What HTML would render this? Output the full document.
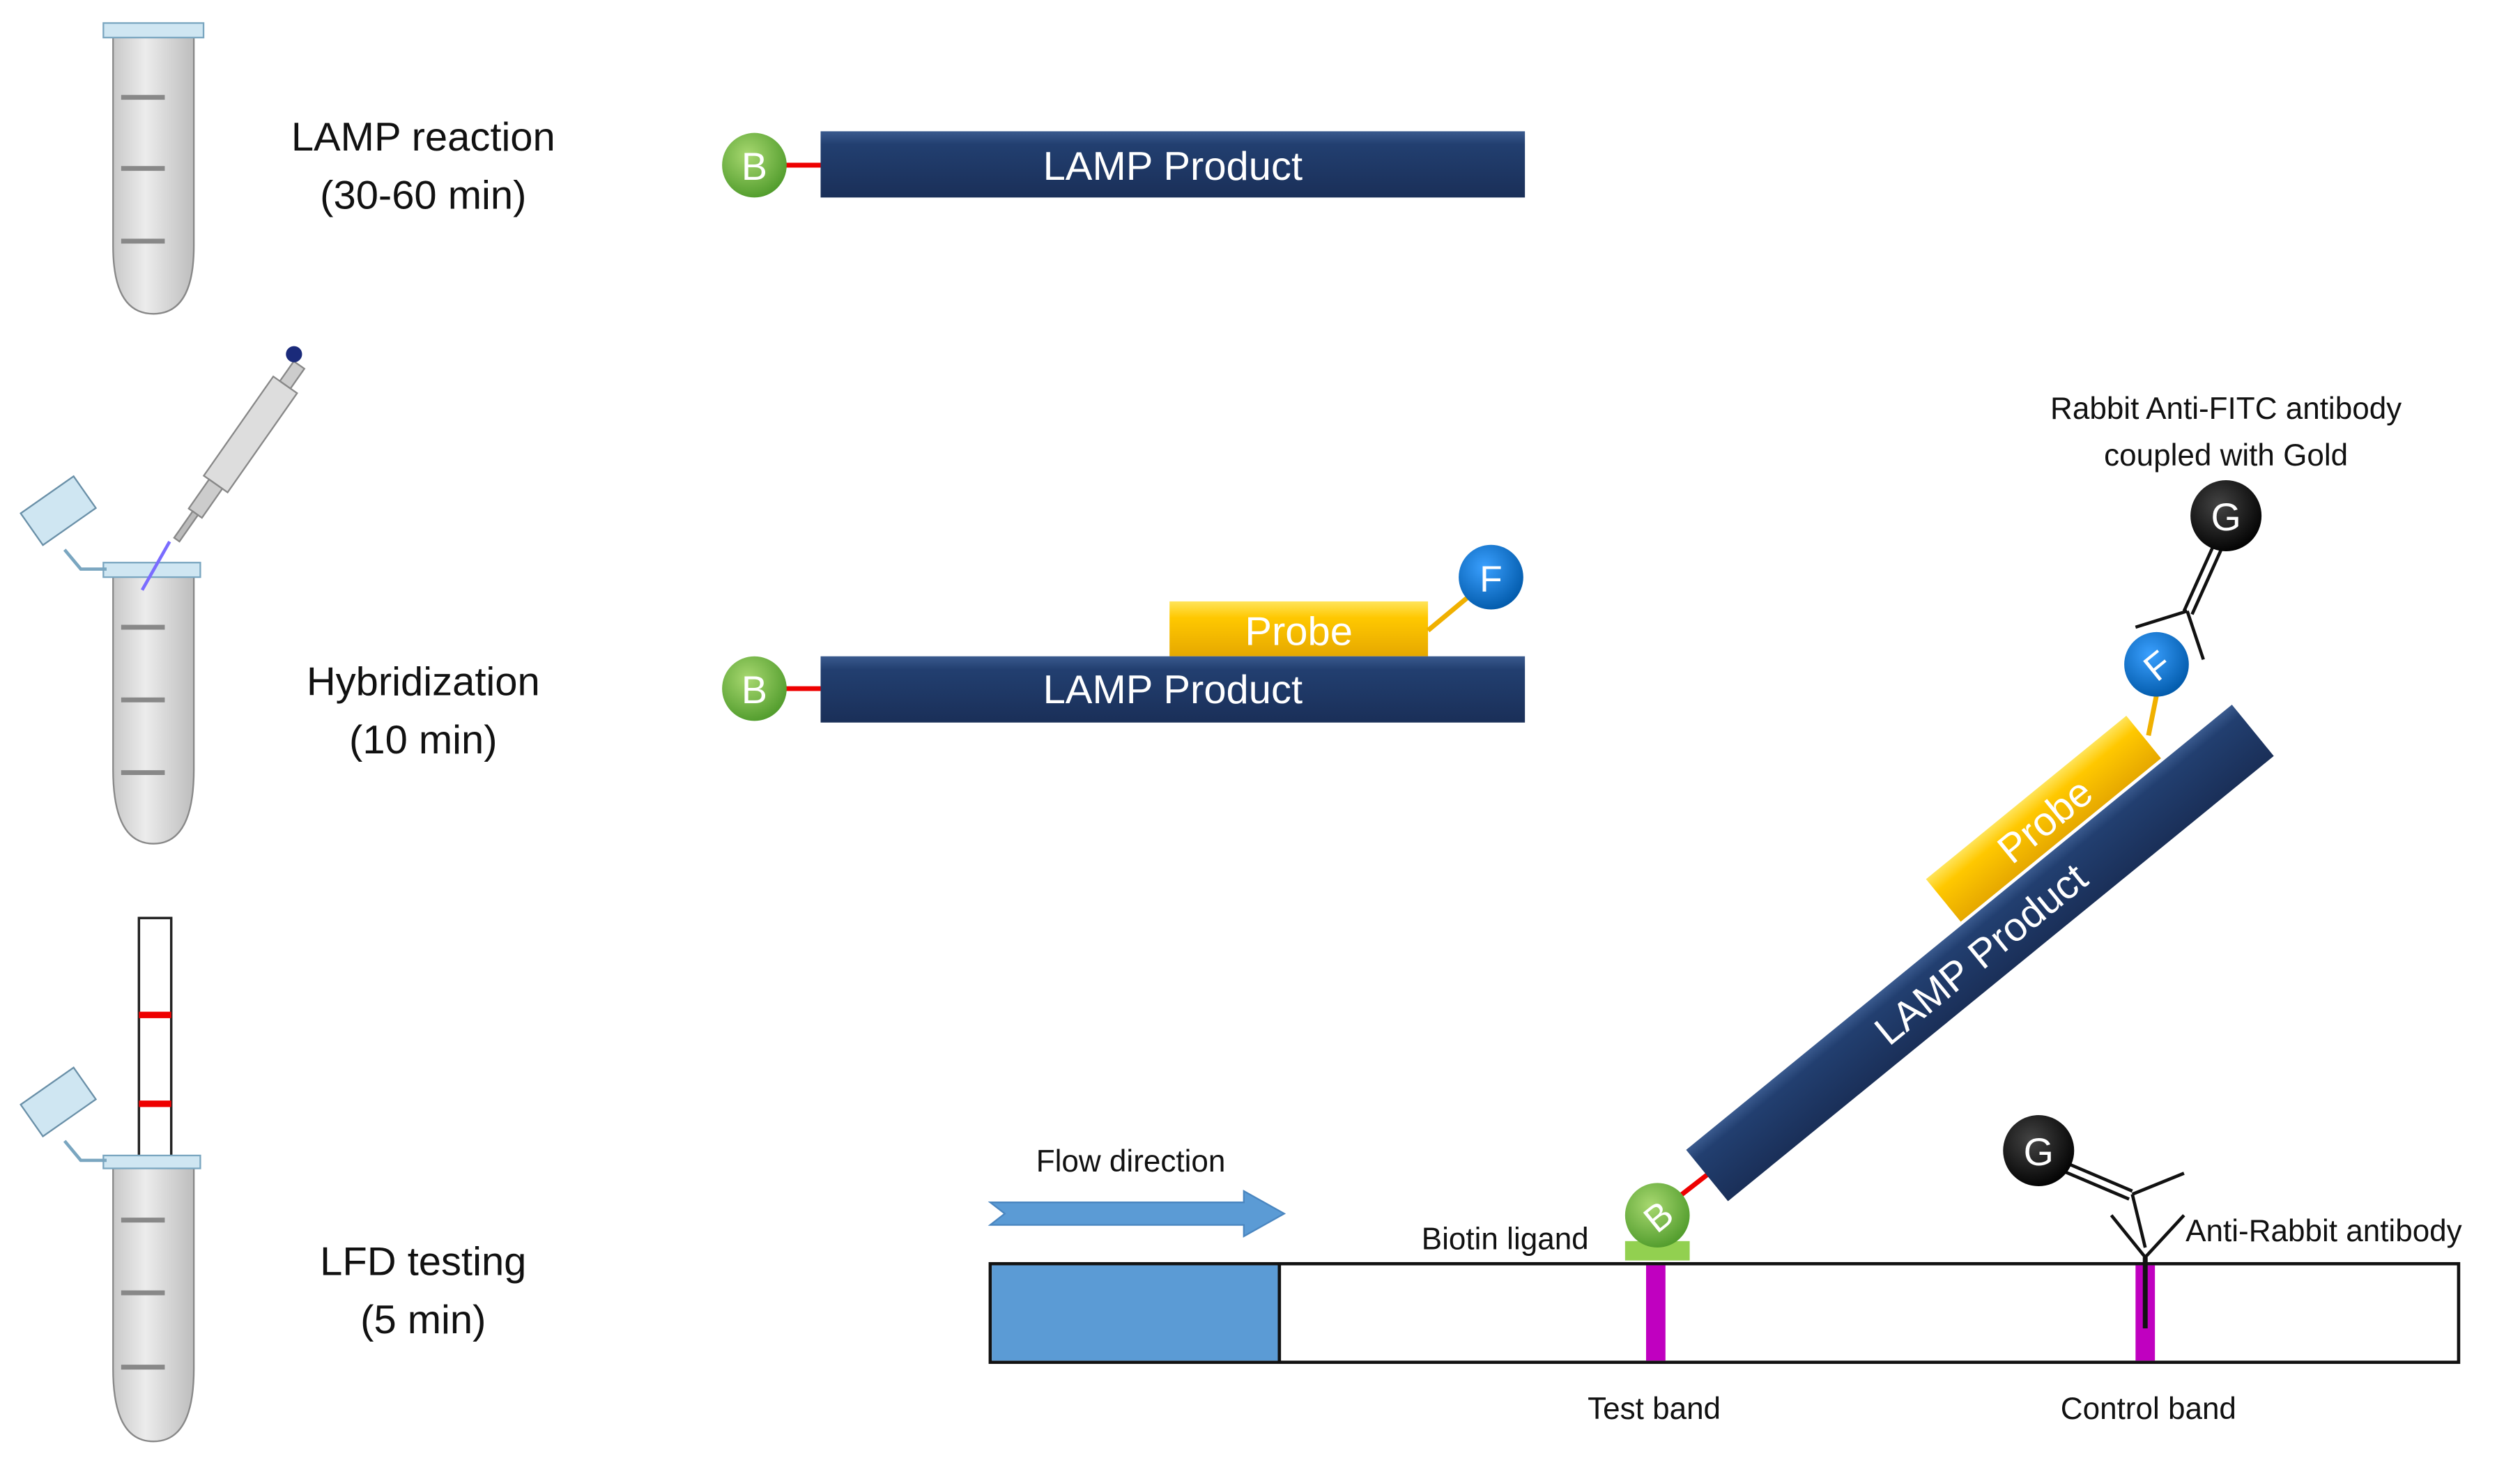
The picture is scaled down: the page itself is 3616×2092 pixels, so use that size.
<!DOCTYPE html>
<html><head><meta charset="utf-8"><style>
html,body{margin:0;padding:0;background:#fff;}
svg{display:block;}
text{font-family:"Liberation Sans",sans-serif;}
</style></head><body>
<svg width="3616" height="2092" viewBox="0 0 1560 902" xmlns="http://www.w3.org/2000/svg">
<defs>
<linearGradient id="tube" x1="0" x2="1"><stop offset="0" stop-color="#c8c8c8"/><stop offset="0.4" stop-color="#ececec"/><stop offset="1" stop-color="#bdbdbd"/></linearGradient>
<linearGradient id="navy" x1="0" y1="0" x2="0" y2="1"><stop offset="0" stop-color="#3a5a8e"/><stop offset="0.2" stop-color="#223f70"/><stop offset="1" stop-color="#1a2f58"/></linearGradient>
<linearGradient id="yel" x1="0" y1="0" x2="0" y2="1"><stop offset="0" stop-color="#ffe45a"/><stop offset="0.3" stop-color="#ffc800"/><stop offset="1" stop-color="#e6a800"/></linearGradient>
<radialGradient id="grn" cx="0.4" cy="0.35" r="0.7"><stop offset="0" stop-color="#a8d870"/><stop offset="1" stop-color="#4e9a2a"/></radialGradient>
<radialGradient id="blu" cx="0.4" cy="0.35" r="0.7"><stop offset="0" stop-color="#3aa0ff"/><stop offset="1" stop-color="#0058a8"/></radialGradient>
<radialGradient id="blk" cx="0.4" cy="0.35" r="0.7"><stop offset="0" stop-color="#444"/><stop offset="1" stop-color="#000"/></radialGradient>
<g id="tubebody">
<path d="M70,0 L120,0 L120,130 Q120,172 95,172 Q70,172 70,130 Z" fill="url(#tube)" stroke="#888" stroke-width="1"/>
</g>
</defs>

<!-- Tube 1 -->
<g transform="translate(0,22)"><use href="#tubebody"/></g>
<rect x="64" y="14" width="62" height="9" fill="#cfe6f2" stroke="#7aa6c0"/>
<g stroke="#888" stroke-width="3"><line x1="75" y1="60" x2="102" y2="60"/><line x1="75" y1="104" x2="102" y2="104"/><line x1="75" y1="149" x2="102" y2="149"/></g>
<text x="262" y="93" font-size="25" text-anchor="middle" fill="#111">LAMP reaction</text>
<text x="262" y="129" font-size="25" text-anchor="middle" fill="#111">(30-60 min)</text>

<!-- Row 1 product -->
<line x1="486" y1="102" x2="510" y2="102" stroke="#e00" stroke-width="3"/>
<circle cx="467" cy="102" r="20" fill="url(#grn)"/>
<text x="467" y="111" font-size="24" text-anchor="middle" fill="#fff">B</text>
<rect x="508" y="81" width="436" height="41" fill="url(#navy)"/>
<text x="726" y="111" font-size="25" text-anchor="middle" fill="#fff">LAMP Product</text>

<!-- Tube 2 with pipette -->
<g transform="translate(0,356)"><path d="M70,0 L120,0 L120,120 Q120,166 95,166 Q70,166 70,120 Z" fill="url(#tube)" stroke="#888"/></g>
<rect x="64" y="348" width="60" height="9" fill="#cfe6f2" stroke="#7aa6c0"/>
<g stroke="#888" stroke-width="3"><line x1="75" y1="388" x2="102" y2="388"/><line x1="75" y1="433" x2="102" y2="433"/><line x1="75" y1="478" x2="102" y2="478"/></g>
<g transform="translate(40,318) rotate(-35)"><rect x="-22" y="-16" width="40" height="24" fill="#cfe6f2" stroke="#6a90a8"/></g>
<path d="M40,340 L50,352 L66,352" fill="none" stroke="#7aa6c0" stroke-width="2"/>
<line x1="88" y1="365" x2="105" y2="335" stroke="#7a6cff" stroke-width="2"/>
<g transform="translate(145,283) rotate(35)">
<rect x="-9" y="-55" width="18" height="75" fill="#ddd" stroke="#888"/>
<rect x="-5" y="20" width="10" height="22" fill="#ccc" stroke="#888"/>
<rect x="-2" y="42" width="4" height="20" fill="#bbb" stroke="#888"/>
<rect x="-4" y="-70" width="8" height="15" fill="#ccc" stroke="#888"/>
</g>
<circle cx="182" cy="219" r="5" fill="#1a2a7a"/>
<text x="262" y="430" font-size="25" text-anchor="middle" fill="#111">Hybridization</text>
<text x="262" y="466" font-size="25" text-anchor="middle" fill="#111">(10 min)</text>

<!-- Row 2 -->
<line x1="486" y1="426" x2="510" y2="426" stroke="#e00" stroke-width="3"/>
<circle cx="467" cy="426" r="20" fill="url(#grn)"/>
<text x="467" y="435" font-size="24" text-anchor="middle" fill="#fff">B</text>
<rect x="724" y="372" width="160" height="34" fill="url(#yel)"/>
<text x="804" y="399" font-size="25" text-anchor="middle" fill="#fff">Probe</text>
<line x1="884" y1="390" x2="908" y2="370" stroke="#f0b000" stroke-width="3"/>
<circle cx="923" cy="357" r="20" fill="url(#blu)"/>
<text x="923" y="366" font-size="23" text-anchor="middle" fill="#fff">F</text>
<rect x="508" y="406" width="436" height="41" fill="url(#navy)"/>
<text x="726" y="435" font-size="25" text-anchor="middle" fill="#fff">LAMP Product</text>

<!-- Tube 3 with strip -->
<rect x="86" y="568" width="20" height="148" fill="#fff" stroke="#222" stroke-width="1.5"/>
<rect x="86" y="626" width="20" height="4" fill="#e00"/>
<rect x="86" y="681" width="20" height="4" fill="#e00"/>
<g transform="translate(0,722)"><path d="M70,0 L120,0 L120,125 Q120,170 95,170 Q70,170 70,125 Z" fill="url(#tube)" stroke="#888"/></g>
<rect x="64" y="715" width="60" height="8" fill="#cfe6f2" stroke="#7aa6c0"/>
<g stroke="#888" stroke-width="3"><line x1="75" y1="755" x2="102" y2="755"/><line x1="75" y1="800" x2="102" y2="800"/><line x1="75" y1="846" x2="102" y2="846"/></g>
<g transform="translate(40,684) rotate(-35)"><rect x="-22" y="-16" width="40" height="24" fill="#cfe6f2" stroke="#6a90a8"/></g>
<path d="M40,706 L50,718 L66,718" fill="none" stroke="#7aa6c0" stroke-width="2"/>
<text x="262" y="789" font-size="25" text-anchor="middle" fill="#111">LFD testing</text>
<text x="262" y="825" font-size="25" text-anchor="middle" fill="#111">(5 min)</text>

<!-- Strip -->
<rect x="613" y="782" width="909" height="61" fill="#fff" stroke="#111" stroke-width="2"/>
<rect x="614" y="783" width="178" height="59" fill="#5b9bd5"/>
<line x1="792" y1="782" x2="792" y2="843" stroke="#111" stroke-width="2"/>
<rect x="1019" y="783" width="12" height="59" fill="#c000c0"/>
<rect x="1322" y="783" width="12" height="59" fill="#c000c0"/>
<line x1="1328" y1="778" x2="1328" y2="822" stroke="#111" stroke-width="3"/>

<!-- Flow arrow -->
<path d="M613,744 L770,744 L770,737 L795,751 L770,765 L770,758 L613,758 L622,751 Z" fill="#5b9bd5" stroke="#4a86c0"/>
<text x="700" y="725" font-size="19" text-anchor="middle" fill="#111">Flow direction</text>

<!-- Biotin -->
<text x="880" y="773" font-size="19" fill="#111">Biotin ligand</text>
<rect x="1006" y="768" width="40" height="12" fill="#92d050"/>
<line x1="1040" y1="740" x2="1058" y2="726" stroke="#e00" stroke-width="3"/>

<!-- Tilted LAMP product -->
<g transform="translate(1226,590) rotate(-39.2)">
<rect x="3" y="-57" width="160" height="34" fill="url(#yel)"/>
<text x="83" y="-30" font-size="25" text-anchor="middle" fill="#fff">Probe</text>
<rect x="-218" y="-21" width="436" height="41" fill="url(#navy)"/>
<text x="0" y="9" font-size="25" text-anchor="middle" fill="#fff">LAMP Product</text>
</g>
<circle cx="1026" cy="752" r="20" fill="url(#grn)"/>
<text x="1026" y="761" font-size="23" text-anchor="middle" fill="#fff" transform="rotate(-39 1026 752)">B</text>
<line x1="1330" y1="455" x2="1335" y2="430" stroke="#f0b000" stroke-width="3"/>
<circle cx="1335" cy="411" r="20" fill="url(#blu)"/>
<text x="1335" y="420" font-size="23" text-anchor="middle" fill="#fff" transform="rotate(-39 1335 411)">F</text>

<!-- Anti-FITC antibody -->
<g stroke="#111" stroke-width="2" fill="none">
<line x1="1370" y1="338" x2="1352" y2="378"/><line x1="1375" y1="340" x2="1357" y2="380"/>
<line x1="1354" y1="378" x2="1322" y2="388"/>
<line x1="1354" y1="378" x2="1364" y2="408"/>
</g>
<circle cx="1378" cy="319" r="22" fill="url(#blk)"/>
<text x="1378" y="328" font-size="24" text-anchor="middle" fill="#fff">G</text>
<text x="1378" y="259" font-size="19" text-anchor="middle" fill="#111">Rabbit Anti-FITC antibody</text>
<text x="1378" y="288" font-size="19" text-anchor="middle" fill="#111">coupled with Gold</text>

<!-- Control antibody -->
<g stroke="#111" stroke-width="2" fill="none">
<line x1="1280" y1="720" x2="1320" y2="737"/><line x1="1278" y1="725" x2="1318" y2="742"/>
<line x1="1320" y1="739" x2="1352" y2="726"/>
<line x1="1320" y1="739" x2="1328" y2="772"/>
<line x1="1307" y1="752" x2="1328" y2="778"/>
<line x1="1352" y1="752" x2="1328" y2="778"/>
</g>
<circle cx="1262" cy="712" r="22" fill="url(#blk)"/>
<text x="1262" y="721" font-size="24" text-anchor="middle" fill="#fff">G</text>
<text x="1353" y="768" font-size="19" fill="#111">Anti-Rabbit antibody</text>

<text x="1024" y="878" font-size="19" text-anchor="middle" fill="#111">Test band</text>
<text x="1330" y="878" font-size="19" text-anchor="middle" fill="#111">Control band</text>
</svg>
</body></html>
